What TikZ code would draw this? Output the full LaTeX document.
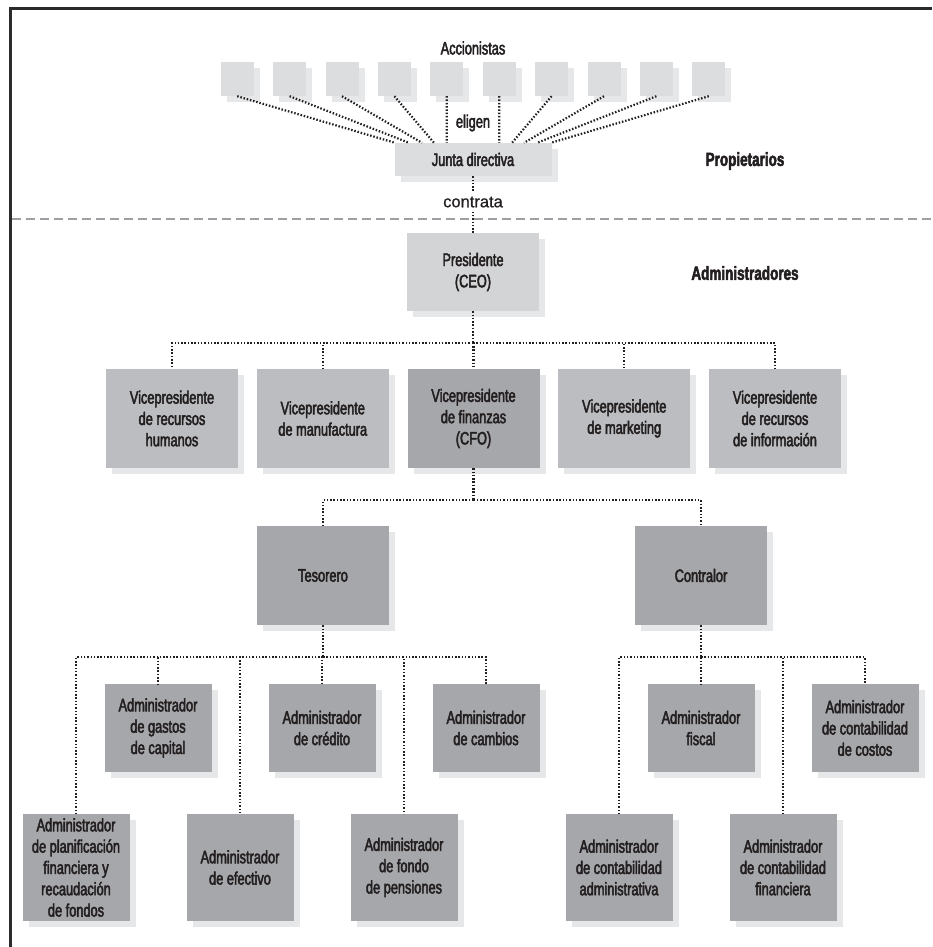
\documentclass[tikz,border=0pt]{standalone}
\usepackage{fontspec}
\setmainfont{Liberation Sans}[FakeStretch=0.71,FakeBold=2.6]
\newfontfamily\widefont{Liberation Sans}[FakeBold=0.8]
\usetikzlibrary{shadows}
\definecolor{ink}{HTML}{231F20}
\definecolor{lite}{HTML}{DCDDDF}
\definecolor{presgray}{HTML}{D3D4D6}
\definecolor{vpgray}{HTML}{BCBDC0}
\definecolor{dark}{HTML}{A6A7AA}
\definecolor{shade}{HTML}{E6E7E8}
\definecolor{rulegray}{HTML}{9D9FA2}
\definecolor{framegray}{HTML}{2B2B2B}

\begin{document}
\begin{tikzpicture}[x=1pt,y=1pt,node distance=150.75pt,
    font=\fontsize{18}{21.3}\selectfont,
    box/.style={fill=#1,text=ink,inner sep=0pt,align=center,
      drop shadow={shadow xshift=6pt,shadow yshift=-6pt,fill=shade,opacity=1}},
    vp/.style={box=vpgray,minimum width=132pt,minimum height=99pt},
    mgrhi/.style={box=dark,minimum width=107pt,minimum height=88pt},
    mgrlo/.style={box=dark,minimum width=107pt,minimum height=107pt},
    conn/.style={draw=ink,line width=2.2pt,dash pattern=on 1.5pt off 1.8pt},
    lbl/.style={text=ink,inner sep=4pt}]
  \useasboundingbox (0,0) rectangle (932,-947);
  %% Frame and separator
  \draw[framegray,line width=3pt] (932,-8.5) -- (10.5,-8.5) -- (10.5,-947);
  \draw[rulegray,line width=2pt,dash pattern=on 9pt off 5pt] (12,-218.5) -- (932,-218.5);

  %% Owners
  \node[lbl] (acc) at (473,-48) {Accionistas};
  \foreach \k in {1,...,10}
    \node[box=lite,minimum width=33pt,minimum height=34pt] (s\k) at ({237.2+52.4*(\k-1)},-79) {};
  \node[box=lite,minimum width=157pt,minimum height=33pt] (1) at (473,-159.5) {Junta directiva};
  \node[lbl] (el) at (473,-123) {eligen};
  \node[lbl,font=\widefont\fontsize{16.5}{20}\selectfont] (ct) at (473,-202) {contrata};
  \node[lbl,font=\bfseries\fontsize{19}{22}\selectfont] (own) at (745,-161) {Propietarios};
  \node[lbl,font=\bfseries\fontsize{19}{22}\selectfont] (mgr) at (745,-273) {Administradores};

  %% Managers
  \node[box=presgray,minimum width=132pt,minimum height=78pt] (2) at (473,-272) {Presidente\\(CEO)};
  \node[vp] (3) at (172,-418.5) {Vicepresidente\\de recursos\\humanos};
  \node[vp,right of=3] (4) {Vicepresidente\\de manufactura};
  \node[vp,right of=4,fill=dark] (5) {Vicepresidente\\de finanzas\\(CFO)};
  \node[vp,right of=5] (6) {Vicepresidente\\de marketing};
  \node[vp,right of=6] (7) {Vicepresidente\\de recursos\\de información};
  \node[vp,fill=dark] (8) at (323,-575.5) {Tesorero};
  \node[vp,fill=dark,right of=8,xshift=227.25pt] (9) {Contralor};

  %% Staff of the Tesorero
  \node[mgrlo] (10) at (76,-867.5) {Administrador\\de planificación\\financiera y\\recaudación\\de fondos};
  \node[mgrhi] (11) at (158,-728) {Administrador\\de gastos\\de capital};
  \node[mgrlo,right of=10,xshift=13.25pt] (12) {Administrador\\de efectivo};
  \node[mgrhi,right of=11,xshift=13.25pt] (13) {Administrador\\de crédito};
  \node[mgrlo,right of=12,xshift=13.25pt] (14) {Administrador\\de fondo\\de pensiones};
  \node[mgrhi,right of=13,xshift=13.25pt] (15) {Administrador\\de cambios};
  %% Staff of the Contralor
  \node[mgrlo] (16) at (619,-867.5) {Administrador\\de contabilidad\\administrativa};
  \node[mgrhi] (17) at (701,-728) {Administrador\\fiscal};
  \node[mgrlo,right of=16,xshift=13.25pt] (18) {Administrador\\de contabilidad\\financiera};
  \node[mgrhi,right of=17,xshift=13.25pt] (19) {Administrador\\de contabilidad\\de costos};

  %% Dotted links
  \foreach \k/\d in {1/-78,2/-64,3/-51,4/-39,5/-26.2,6/26.2,7/39,8/51,9/64,10/78}
    \draw[conn] (s\k.south) -- ([xshift=\d]1.north);
  \draw[conn] (1) -- (ct);
  \draw[conn] (ct) -- (2);
  \draw[conn] (2.south) -- ++(0,-32) coordinate (b1);
  \foreach \k in {3,...,7} \draw[conn] (b1) -| (\k.north);
  \draw[conn] (5.south) -- ++(0,-32) coordinate (b2);
  \foreach \k in {8,9} \draw[conn] (b2) -| (\k.north);
  \draw[conn] (8.south) -- ++(0,-32) coordinate (b3);
  \foreach \k in {10,...,15} \draw[conn] (b3) -| (\k.north);
  \draw[conn] (9.south) -- ++(0,-32) coordinate (b4);
  \foreach \k in {16,...,19} \draw[conn] (b4) -| (\k.north);
\end{tikzpicture}
\end{document}
